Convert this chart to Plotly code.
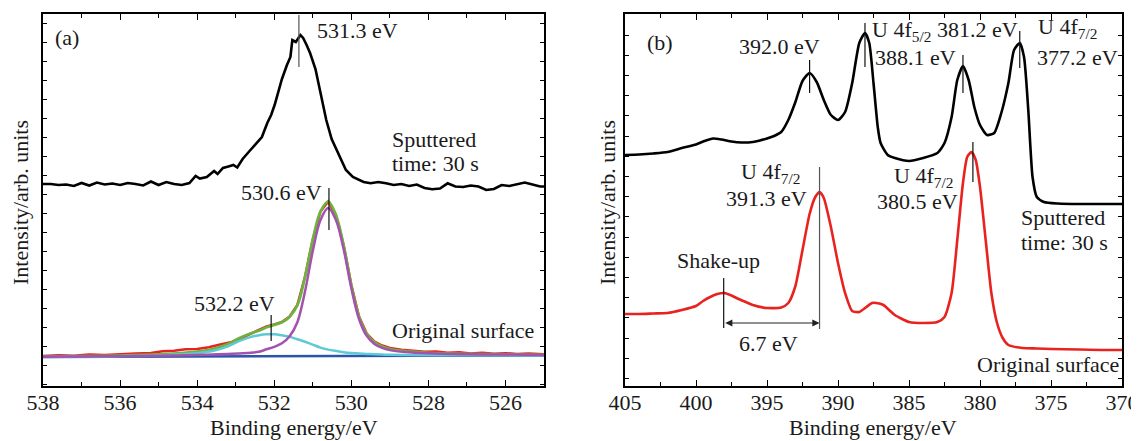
import plotly.graph_objects as go

# ---------------- Panel (a): O 1s ----------------
E_a_sput = [538.0, 537.8, 537.6, 537.4, 537.2, 537.0, 536.8, 536.6, 536.4, 536.2, 536.0, 535.8,
            535.6, 535.4, 535.2, 535.0, 534.8, 534.6, 534.4, 534.2, 534.04, 533.93, 533.75, 533.56,
            533.47, 533.33, 533.19, 533.06, 532.96, 532.82, 532.64, 532.45, 532.32, 532.18, 532.08,
            531.99, 531.8, 531.67, 531.58, 531.53, 531.44, 531.32, 531.25, 531.16, 531.07, 530.93,
            530.79, 530.65, 530.51, 530.33, 530.14, 529.96, 529.68, 529.5, 529.3, 529.1, 528.9,
            528.7, 528.5, 528.3, 528.1, 527.9, 527.7, 527.5, 527.3, 527.1, 526.9, 526.7, 526.5,
            526.3, 526.1, 525.9, 525.7, 525.5, 525.3, 525.1, 525.0]
I_a_sput = [203, 203, 202, 202.5, 201, 204, 201.5, 204.5, 202.5, 203.5, 202, 204,
            203, 201.5, 205.5, 202, 205, 203, 202, 204, 211, 208.5, 210, 216,
            213, 219, 220.5, 222, 219.5, 228, 236, 244, 250, 264, 272,
            282, 308, 322, 330, 347, 345, 352, 349, 342, 334, 318,
            292, 267, 248, 232, 217, 210, 205, 203.7, 205, 203.7, 202,
            203, 201, 202.5, 199, 197.7, 198.5, 203.7, 200.5, 200, 201.5, 200.5, 197,
            198, 202, 201, 203, 204.5, 202.5, 200.5, 200.5]

E_a_fit = [538, 537, 536, 535, 534.5, 534, 533.6, 533.2, 532.9, 532.6, 532.4, 532.2, 532.0,
           531.8, 531.6, 531.4, 531.2, 531.0, 530.8, 530.6, 530.4, 530.2, 530.0, 529.8, 529.6,
           529.4, 529.2, 529.0, 528.6, 528, 527, 526, 525]
BG_a = [30.0, 30.1, 30.2, 30.3, 30.4, 30.5, 30.5, 30.6, 30.6, 30.6, 30.7, 30.7, 30.7,
        30.7, 30.8, 30.8, 30.8, 30.9, 30.9, 30.9, 31.0, 31.0, 31.0, 31.0, 31.1,
        31.1, 31.1, 31.1, 31.2, 31.3, 31.4, 31.5, 31.5]
P_a_532 = [0.1, 0.3, 0.6, 1.2, 2.0, 3.3, 5.5, 10, 15.5, 19.5, 21, 22, 22,
           21, 19.5, 17, 14.5, 11.5, 8.5, 6.5, 5, 3.8, 3.0, 2.4, 2.0,
           1.6, 1.3, 1.1, 0.8, 0.5, 0.3, 0.2, 0.1]
P_a_530 = [0.3, 0.4, 0.6, 1.0, 1.2, 1.6, 2.0, 2.4, 3.0, 3.7, 4.5, 7, 9.5,
           13, 20, 34, 65, 105, 136, 148, 136, 107, 68, 37, 20,
           12, 8, 5.8, 3.8, 2.4, 1.4, 0.9, 0.6]

E_a_raw = [538.0, 537.6, 537.2, 536.8, 536.4, 536.0, 535.6, 535.2, 534.9, 534.6, 534.3, 534.0,
           533.7, 533.4, 533.1, 532.8, 532.5, 532.2, 532.0, 531.8, 531.6, 531.4, 531.2, 531.0,
           530.8, 530.6, 530.4, 530.2, 530.0, 529.8, 529.6, 529.4, 529.2, 529.0, 528.7, 528.4,
           528.1, 527.8, 527.5, 527.2, 526.9, 526.6, 526.3, 526.0, 525.7, 525.4, 525.0]
I_a_raw = [31.0, 31.8, 31.2, 32.4, 32.0, 33.0, 33.6, 34.0, 35.8, 36.3, 37.8, 38.0,
           39.8, 42.5, 45.0, 50.0, 55.5, 60.5, 62.5, 65.0, 70.5, 82, 110.5, 147.5,
           175.5, 185.5, 172, 142, 102, 70.5, 53.5, 45.5, 41.5, 39.0, 37.2, 36.5,
           35.2, 35.5, 34.3, 34.8, 33.6, 34.2, 33.2, 33.8, 33.0, 33.4, 32.8]

# peak markers (a): energy, bottom, top, colour
mark_a_E = [531.36, 530.58, 532.08]
mark_a_lo = [320, 157, 46]
mark_a_hi = [372, 199, 72]
mark_a_col = ["#555555", "#111111", "#111111"]

# ---------------- Panel (b): U 4f ----------------
E_b_sput = [405, 404, 403, 402, 401, 400, 399.4, 398.8, 398.2, 397.5, 396.8, 396, 395.5, 395,
            394.5, 394, 393.5, 393, 392.5, 392.0, 391.5, 391, 390.5, 390, 389.5, 389, 388.5,
            388.1, 387.8, 387.5, 387.2, 387, 386.5, 386, 385, 384, 383, 382.5, 382, 381.6,
            381.2, 380.8, 380.4, 380, 379.5, 379, 378.5, 378, 377.6, 377.2, 376.9, 376.6,
            376.3, 376.0, 375.5, 374.5, 373, 371.5, 370]
I_b_sput = [231, 231.5, 232.5, 234, 238, 241.5, 245, 247.5, 246.5, 244.5, 243.5, 244, 245.5, 247.5,
            250, 254, 266, 284, 305, 313, 304, 286, 271, 266, 274, 303, 343,
            353, 343, 303, 259, 243, 231, 228, 225, 228, 233, 243, 269, 306,
            320, 306, 279, 261, 251, 253, 273, 303, 336, 343, 329, 276,
            209, 189, 184, 182.5, 182, 182, 182]

E_b_orig = [405, 404, 403, 402, 401, 400, 399.5, 399, 398.5, 398, 397.5, 397, 396.5, 396,
            395, 394, 393.5, 393, 392.5, 392, 391.6, 391.3, 391.0, 390.5, 390, 389.5,
            389, 388.5, 388, 387.6, 387.3, 386.8, 386.4, 386, 385, 384, 383, 382.5, 382,
            381.6, 381.2, 380.9, 380.6, 380.3, 380.0, 379.6, 379.2, 378.8, 378.4, 378, 377,
            376, 375, 373, 371.5, 370]
I_b_orig = [72, 72, 72.5, 73, 76, 80, 85, 89, 92, 93, 90.5, 87, 84, 81,
            78, 78.5, 83, 100, 136, 172, 189, 194, 188, 159, 123, 93,
            75, 74, 79, 83, 83, 81, 76, 71, 64, 63, 64, 69, 93,
            146, 203, 229, 234, 226, 199, 146, 93, 63, 48, 41, 38,
            37.5, 37, 36.5, 36, 36]

mark_b_E = [392.0, 388.1, 381.2, 377.2, 391.3, 380.5, 398.05]
mark_b_lo = [293, 319, 293, 318, 57, 204, 58]
mark_b_hi = [326, 363, 331, 355, 219, 244, 108]
mark_b_col = ["#111111", "#111111", "#111111", "#111111", "#555555", "#111111", "#111111"]

shake_from, shake_to, shake_y = 398.05, 391.3, 63

FONT = "Liberation Serif"
FS = 22
TXT = "#1a1a1a"

fig = go.Figure()

# (a) traces
fig.add_trace(go.Scatter(x=E_a_raw, y=I_a_raw, mode="lines", line=dict(color="#e8231f", width=2.5),
                         xaxis="x", yaxis="y", showlegend=False))
green = [b + c + m for b, c, m in zip(BG_a, P_a_532, P_a_530)]
fig.add_trace(go.Scatter(x=E_a_fit, y=green, mode="lines", line=dict(color="#6db33f", width=2.8, shape="spline"),
                         xaxis="x", yaxis="y", showlegend=False))
fig.add_trace(go.Scatter(x=E_a_fit, y=BG_a, mode="lines", line=dict(color="#2a55a8", width=2.5),
                         xaxis="x", yaxis="y", showlegend=False))
fig.add_trace(go.Scatter(x=E_a_fit, y=[b + c for b, c in zip(BG_a, P_a_532)], mode="lines",
                         line=dict(color="#5fc9d6", width=2.5, shape="spline"),
                         xaxis="x", yaxis="y", showlegend=False))
fig.add_trace(go.Scatter(x=E_a_fit, y=[b + m for b, m in zip(BG_a, P_a_530)], mode="lines",
                         line=dict(color="#a352ad", width=2.5, shape="spline"),
                         xaxis="x", yaxis="y", showlegend=False))
fig.add_trace(go.Scatter(x=E_a_sput, y=I_a_sput, mode="lines", line=dict(color="black", width=2.6),
                         xaxis="x", yaxis="y", showlegend=False))
for e, lo, hi, c in zip(mark_a_E, mark_a_lo, mark_a_hi, mark_a_col):
    fig.add_trace(go.Scatter(x=[e, e], y=[lo, hi], mode="lines", line=dict(color=c, width=1.2),
                             xaxis="x", yaxis="y", showlegend=False, hoverinfo="skip"))

# (b) traces
fig.add_trace(go.Scatter(x=E_b_sput, y=I_b_sput, mode="lines", line=dict(color="black", width=2.6, shape="spline", smoothing=0.6),
                         xaxis="x2", yaxis="y2", showlegend=False))
fig.add_trace(go.Scatter(x=E_b_orig, y=I_b_orig, mode="lines", line=dict(color="#e8231f", width=2.6, shape="spline", smoothing=0.6),
                         xaxis="x2", yaxis="y2", showlegend=False))
for e, lo, hi, c in zip(mark_b_E, mark_b_lo, mark_b_hi, mark_b_col):
    fig.add_trace(go.Scatter(x=[e, e], y=[lo, hi], mode="lines", line=dict(color=c, width=1.2),
                             xaxis="x2", yaxis="y2", showlegend=False, hoverinfo="skip"))

ann = []
def txt(x, y, s, xref, yref, xanchor="left", yanchor="middle"):
    ann.append(dict(x=x, y=y, text=s, xref=xref, yref=yref, showarrow=False,
                    xanchor=xanchor, yanchor=yanchor, font=dict(family=FONT, size=FS, color=TXT)))

# (a) texts
txt(537.75, 350, "(a)", "x", "y")
txt(530.94, 357, "531.3 eV", "x", "y")
txt(529.0, 248, "Sputtered", "x", "y")
txt(529.0, 224, "time: 30 s", "x", "y")
txt(530.72, 195, "530.6 eV", "x", "y", xanchor="right")
txt(531.92, 84, "532.2 eV", "x", "y", xanchor="right")
txt(529.0, 57, "Original surface", "x", "y")

# (b) texts
txt(403.6, 344, "(b)", "x2", "y2")
txt(394.1, 340, "392.0 eV", "x2", "y2", xanchor="center")
txt(387.75, 355, "U 4f<sub>5/2</sub> 381.2 eV", "x2", "y2")
txt(387.55, 329, "388.1 eV", "x2", "y2")
txt(376.05, 358, "U 4f<sub>7/2</sub>", "x2", "y2")
txt(376.1, 329, "377.2 eV", "x2", "y2")
txt(394.75, 213, "U 4f<sub>7/2</sub>", "x2", "y2", xanchor="center")
txt(395.05, 188, "391.3 eV", "x2", "y2", xanchor="center")
txt(384.0, 209, "U 4f<sub>7/2</sub>", "x2", "y2", xanchor="center")
txt(384.4, 185, "380.5 eV", "x2", "y2", xanchor="center")
txt(377.25, 169, "Sputtered", "x2", "y2")
txt(377.25, 144, "time: 30 s", "x2", "y2")
txt(398.4, 126, "Shake-up", "x2", "y2", xanchor="center")
txt(394.9, 43, "6.7 eV", "x2", "y2", xanchor="center")
txt(380.35, 22, "Original surface", "x2", "y2")

ann.append(dict(x=shake_to, y=shake_y, ax=shake_from, ay=shake_y, xref="x2", yref="y2",
                axref="x2", ayref="y2", showarrow=True, arrowhead=2, arrowside="end+start",
                arrowsize=1.2, arrowwidth=1.2, arrowcolor="#222", text="", standoff=0, startstandoff=0))

# page geometry: the browser body keeps its default 8px margin, so the figure starts at (8, 8)
OFF = 8
SW, SH = 1139, 441
W, H = SW - OFF, SH
# desired plot area in screen pixels
X0, X1, Y0, Y1 = 43, 1122, 14, 386
L, R, T, B = X0 - OFF, W - (X1 - OFF), Y0 - OFF, H - (Y1 - OFF)
pw, ph = X1 - X0, Y1 - Y0
def px(xs):
    return (xs - X0) / pw
def py(ys):
    return (Y1 - ys) / ph

for xc in [px(294), px(873)]:
    ann.append(dict(x=xc, y=py(428), xref="paper", yref="paper", text="Binding energy/eV", showarrow=False,
                    xanchor="center", yanchor="middle", font=dict(family=FONT, size=FS, color=TXT)))
for xc in [px(20), px(607)]:
    ann.append(dict(x=xc, y=py(203), xref="paper", yref="paper", text="Intensity/arb. units", showarrow=False,
                    textangle=-90, xanchor="center", yanchor="middle", font=dict(family=FONT, size=FS, color=TXT)))

common_x = dict(showline=True, linecolor="black", linewidth=1.5, mirror="allticks", ticks="inside",
                ticklen=6, tickwidth=1.2, tickcolor="black", showgrid=False, zeroline=False,
                tickfont=dict(family=FONT, size=FS, color=TXT))
common_y = dict(showline=True, linecolor="black", linewidth=1.5, mirror="allticks", ticks="inside",
                ticklen=4, tickwidth=1, tickcolor="black", showgrid=False, zeroline=False,
                showticklabels=False)

fig.update_layout(
    width=W, height=H, margin=dict(l=L, r=R, t=T, b=B, autoexpand=False),
    paper_bgcolor="white", plot_bgcolor="white",
    xaxis=dict(domain=[0, px(544)], range=[538, 525], tick0=526, dtick=2,
               minor=dict(dtick=1, ticks="inside", ticklen=4, tickcolor="black", showgrid=False),
               anchor="y", **common_x),
    yaxis=dict(domain=[0, 1], range=[1, 373], tick0=2.7, dtick=19, anchor="x", **common_y),
    xaxis2=dict(domain=[px(625), 1], range=[405, 370], tick0=370, dtick=5,
                minor=dict(dtick=2.5, ticks="inside", ticklen=4, tickcolor="black", showgrid=False),
                anchor="y2", **common_x),
    yaxis2=dict(domain=[0, 1], range=[0, 372], tick0=7.6, dtick=20.2, anchor="x2", **common_y),
    annotations=ann,
    showlegend=False,
)
fig.update_xaxes(ticklabelstandoff=-4)

fig.write_html("out.html")
